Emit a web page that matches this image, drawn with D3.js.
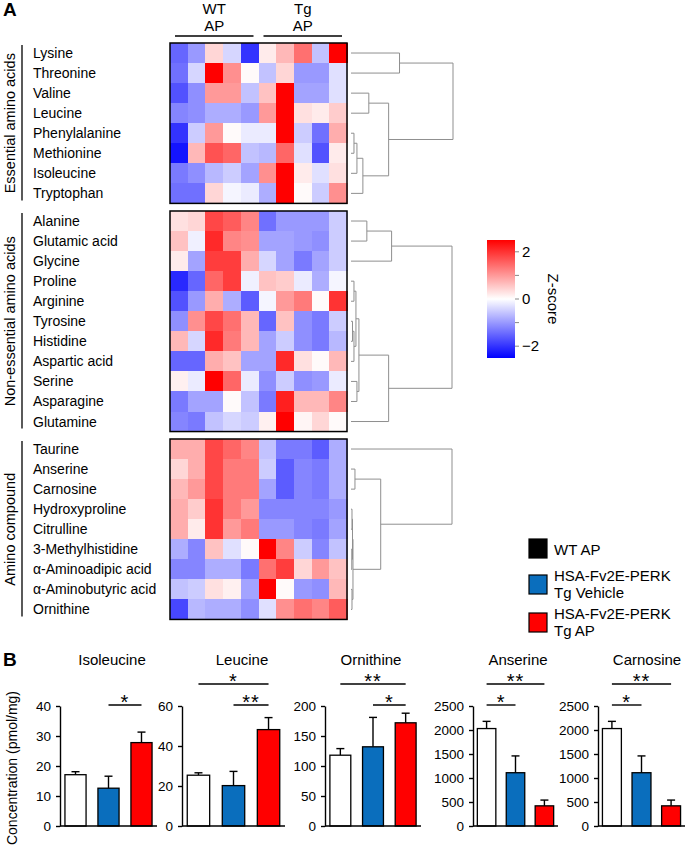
<!DOCTYPE html>
<html>
<head>
<meta charset="utf-8">
<script src="https://cdn.jsdelivr.net/npm/d3@7"></script>
<style>
  body { margin: 0; background: #fff; }
  svg { display: block; font-family: 'Liberation Sans', Arial, sans-serif; }
</style>
</head>
<body>
<div id="chart"></div>
<script>
// ---------- Data: heatmap (Z-scores, 5 WT AP + 5 Tg AP samples) ----------
const sampleHeaders = [['WT', 'AP'], ['Tg', 'AP']];
const groupNames = ['Essential amino acids', 'Non-essential amino acids', 'Amino compound'];

const essentialNames = ['Lysine', 'Threonine', 'Valine', 'Leucine', 'Phenylalanine',
  'Methionine', 'Isoleucine', 'Tryptophan'];
const nonEssentialNames = ['Alanine', 'Glutamic acid', 'Glycine', 'Proline', 'Arginine',
  'Tyrosine', 'Histidine', 'Aspartic acid', 'Serine', 'Asparagine', 'Glutamine'];
const compoundNames = ['Taurine', 'Anserine', 'Carnosine', 'Hydroxyproline', 'Citrulline',
  '3-Methylhistidine', 'α-Aminoadipic acid', 'α-Aminobutyric acid', 'Ornithine'];

const essentialZ = [
  [-1.5, -1.0, 0.4, -0.4, -2.0, 0.2, 0.7, 1.4, -0.6, 2.5],
  [-1.4, -0.4, 2.5, 1.1, 0.05, -0.6, 0.4, -1.0, -1.0, -0.3],
  [-1.7, -1.1, 1.0, 1.0, -0.6, 0.6, 2.5, -0.9, -0.9, -0.3],
  [-1.2, -1.1, -0.8, -0.8, -1.0, 1.0, 2.5, 0.3, 0.2, 0.5],
  [-2.0, -0.5, 1.0, 0.05, -0.2, -0.2, 2.5, -0.5, -1.4, 0.8],
  [-2.3, 0.7, 1.7, 1.5, -0.6, -0.7, 1.5, -0.3, -1.7, 0.2],
  [-1.3, -1.1, -0.7, -0.5, -0.9, 1.1, 2.5, 0.2, -0.3, 0.3],
  [-1.4, -1.4, 0.4, -0.1, -0.2, -0.8, 2.5, 0.05, -0.5, 1.1]
];
const nonEssentialZ = [
  [0.3, 0.4, 1.8, 1.6, 1.2, -1.4, -1.0, -1.0, -1.0, -0.5],
  [0.6, -0.15, 2.1, 1.2, 1.1, -0.9, -0.9, -1.0, -1.1, -0.5],
  [0.2, -0.9, 1.9, 1.9, 0.8, -0.4, -0.9, -1.3, -0.9, -0.5],
  [-2.1, -1.5, 1.5, 1.9, -0.15, 0.6, 0.5, -0.2, -0.8, -0.1],
  [-1.7, -1.0, 0.8, -0.8, -1.6, -0.1, 1.0, 1.3, 0.05, 2.0],
  [-1.1, 1.1, 1.8, 1.4, 0.7, -1.5, 0.6, -1.1, -1.3, -0.5],
  [0.7, -0.4, 2.1, 1.3, 0.7, -0.9, -0.5, -1.1, -1.3, -0.7],
  [-1.5, -1.5, 0.8, 0.6, -0.9, -0.9, 2.1, 0.3, 0.05, 0.7],
  [0.15, -0.2, 2.5, 1.5, -0.2, -1.1, -0.5, -1.1, -1.0, -0.2],
  [-1.3, -0.9, -0.9, 0.05, -0.6, -1.3, 2.2, 0.7, 0.7, 1.2],
  [-1.2, -1.3, -0.6, -0.4, -0.5, 0.15, 2.5, 0.1, 0.4, 0.05]
];
const compoundZ = [
  [0.8, 0.8, 1.8, 1.5, 1.2, -0.6, -1.3, -1.3, -1.6, -0.8],
  [0.4, 0.8, 1.8, 1.3, 1.3, -0.5, -1.6, -1.2, -1.3, -0.8],
  [0.7, 1.0, 1.8, 1.3, 1.3, -0.9, -1.6, -1.2, -1.3, -0.8],
  [0.8, 0.5, 2.0, 1.3, 1.0, -1.2, -1.2, -1.2, -1.2, -1.0],
  [0.8, 0.2, 2.0, 1.0, 1.3, -1.0, -1.0, -1.2, -1.3, -0.9],
  [-0.8, -1.2, 0.6, -0.3, 0.05, 2.5, 1.2, -0.5, -1.2, -0.6],
  [-1.2, -1.2, -0.8, -0.8, -1.3, 1.4, 1.9, 0.4, 1.0, 0.6],
  [-0.6, -0.5, 0.3, 0.15, -0.9, 2.5, 0.05, -1.0, -1.1, 0.7],
  [-1.8, -0.7, -0.8, -0.8, -1.1, -0.3, 1.1, 1.4, 1.2, 1.6]
];

// row dendrograms: [height, left, right], leaves = row index
const essentialTree = [103, [49, 0, 1], [38, [18, 2, 3], [12, [6, [3, 4, 5], 6], 7]]];
const nonEssentialTree = [102, [41, [16, 0, 1], 2],
  [38, [8, [5, [3, 3, 4], [3, [1.5, 5, 6], 7]], [6, 8, 9]], 10]];
const compoundTree = [102, 0, [30, [4, 1, 2], [2, [1.5, [1, 3, 4], [0.8, 5, 6]], [1, 7, 8]]]];

const zTicks = [-2, -1, 0, 1, 2];

// ---------- Data: bar charts (pmol/mg) ----------
const barTitles = ['Isoleucine', 'Leucine', 'Ornithine', 'Anserine', 'Carnosine'];
const barGroups = ['WT AP', 'HSA-Fv2E-PERK Tg Vehicle', 'HSA-Fv2E-PERK Tg AP'];
const barMeans = [
  [17.1, 12.6, 27.8],
  [25.4, 20.2, 48.2],
  [118, 132, 172],
  [2030, 1110, 420],
  [2030, 1110, 420]
];
const barErrors = [
  [1.0, 4.0, 3.5],
  [1.2, 7.1, 6.0],
  [11, 49, 16],
  [150, 350, 120],
  [150, 350, 120]
];
const barYMax = [40, 60, 200, 2500, 2500];
const barYStep = [10, 20, 50, 500, 500];
// [from group, to group, label]; first = lower line
const barSignif = [
  [[1, 2, '*']],
  [[1, 2, '**'], [0, 2, '*']],
  [[1, 2, '*'], [0, 2, '**']],
  [[0, 1, '*'], [0, 2, '**']],
  [[0, 1, '*'], [0, 2, '**']]
];

// ---------- Drawing ----------
const W = 688, H = 852;
const svg = d3.select('#chart').append('svg').attr('width', W).attr('height', H);

const zColor = d3.scaleLinear().domain([-2.5, 0, 2.5])
  .range(['#0000ff', '#ffffff', '#ff0000']).clamp(true);

svg.append('text').attr('x', 3).attr('y', 16).text('A')
  .style('font-size', '19px').style('font-weight', 'bold');
svg.append('text').attr('x', 3).attr('y', 666).text('B')
  .style('font-size', '19px').style('font-weight', 'bold');

const cols = d3.scaleBand().domain(d3.range(10)).range([170, 347]);

// column headers
sampleHeaders.forEach((lines, gi) => {
  const x0 = cols(gi * 5), x1 = cols(gi * 5 + 4) + cols.bandwidth();
  lines.forEach((t, li) => {
    svg.append('text').attr('x', (x0 + x1) / 2).attr('y', 14 + li * 17)
      .attr('text-anchor', 'middle').text(t).style('font-size', '15px');
  });
  svg.append('line').attr('x1', x0 + 5).attr('x2', x1 - 5)
    .attr('y1', 36).attr('y2', 36).attr('stroke', '#000').attr('stroke-width', 1.6);
});

const blocks = [
  { names: essentialNames, z: essentialZ, tree: essentialTree, top: 43 },
  { names: nonEssentialNames, z: nonEssentialZ, tree: nonEssentialTree, top: 211 },
  { names: compoundNames, z: compoundZ, tree: compoundTree, top: 439 }
];
const rowH = 20.05;
const xd = d3.scaleLinear().domain([0, 103]).range([351, 453]);

blocks.forEach((b, bi) => {
  const rows = d3.scaleBand().domain(d3.range(b.names.length))
    .range([b.top, b.top + b.names.length * rowH]);
  const g = svg.append('g');

  // cells
  b.z.forEach((row, ri) => {
    g.selectAll(null).data(row).enter().append('rect')
      .attr('x', (d, ci) => cols(ci))
      .attr('y', rows(ri))
      .attr('width', cols.bandwidth() + 0.5)
      .attr('height', rows.bandwidth() + 0.5)
      .attr('fill', d => zColor(d))
      .attr('shape-rendering', 'crispEdges');
  });
  g.append('rect').attr('x', cols.range()[0]).attr('y', rows.range()[0])
    .attr('width', cols.range()[1] - cols.range()[0])
    .attr('height', rows.range()[1] - rows.range()[0])
    .attr('fill', 'none').attr('stroke', '#000').attr('stroke-width', 1.5);

  // row labels
  g.selectAll('text.row').data(b.names).enter().append('text')
    .attr('x', 33).attr('y', (d, i) => rows(i) + rows.bandwidth() / 2 + 5)
    .text(d => d).style('font-size', '14px');

  // group bracket + label
  const y0 = rows.range()[0], y1 = rows.range()[1];
  g.append('line').attr('x1', 22).attr('x2', 22).attr('y1', y0 + 2).attr('y2', y1 - 3)
    .attr('stroke', '#000').attr('stroke-width', 1.3);
  g.append('text')
    .attr('transform', `translate(15,${(y0 + y1) / 2}) rotate(-90)`)
    .attr('text-anchor', 'middle').text(groupNames[bi]).style('font-size', '14.5px');

  // dendrogram
  const dg = g.append('g').attr('stroke', '#8f8f8f').attr('stroke-width', 1).attr('fill', 'none');
  function walk(node) {
    if (typeof node === 'number') {
      return { x: xd(0), y: rows(node) + rows.bandwidth() / 2 };
    }
    const [h, l, r] = node;
    const a = walk(l), c = walk(r), x = xd(h);
    dg.append('path').attr('d', `M${a.x},${a.y}H${x}V${c.y}H${c.x}`);
    return { x: x, y: (a.y + c.y) / 2 };
  }
  walk(b.tree);
});

// colour bar
const zy = d3.scaleLinear().domain([-2.5, 2.5]).range([358, 240]);
const grad = svg.append('defs').append('linearGradient').attr('id', 'zgrad')
  .attr('x1', 0).attr('y1', 1).attr('x2', 0).attr('y2', 0);
grad.selectAll('stop').data(d3.range(-2.5, 2.51, 0.5)).enter().append('stop')
  .attr('offset', d => (d + 2.5) / 5).attr('stop-color', d => zColor(d));
svg.append('rect').attr('x', 487).attr('y', zy(2.5)).attr('width', 28)
  .attr('height', zy(-2.5) - zy(2.5)).attr('fill', 'url(#zgrad)');
svg.selectAll('line.zt').data(zTicks).enter().append('line')
  .attr('x1', 515).attr('x2', 519).attr('y1', d => zy(d)).attr('y2', d => zy(d))
  .attr('stroke', '#888').attr('stroke-width', 1);
svg.selectAll('text.zt').data(zTicks.filter(d => d % 2 === 0)).enter().append('text')
  .attr('x', 522).attr('y', d => zy(d) + 5)
  .text(d => d < 0 ? '\u2212' + Math.abs(d) : d).style('font-size', '15px');
svg.append('text').attr('transform', `translate(548,${zy(0)}) rotate(90)`)
  .attr('text-anchor', 'middle').text('Z-score').style('font-size', '15px');

// legend
const barColors = ['#ffffff', '#0a6ebd', '#ff0000'];
const legendColors = ['#000000', '#0a6ebd', '#ff0000'];
const legendLines = [['WT AP'], ['HSA-Fv2E-PERK', 'Tg Vehicle'], ['HSA-Fv2E-PERK', 'Tg AP']];
const legendTop = [539, 575, 613];
legendLines.forEach((lines, i) => {
  svg.append('rect').attr('x', 529).attr('y', legendTop[i]).attr('width', 18).attr('height', 19)
    .attr('fill', legendColors[i]).attr('stroke', '#000').attr('stroke-width', 1.2);
  lines.forEach((t, li) => {
    svg.append('text').attr('x', 554)
      .attr('y', lines.length === 1 ? legendTop[i] + 16 : legendTop[i] + 6 + li * 17)
      .text(t).style('font-size', '15px');
  });
});

// bar panels
const panelLayout = [
  { x0: 60, x1: 157, tx: 112 },
  { x0: 182, x1: 285, tx: 242 },
  { x0: 325, x1: 421, tx: 371 },
  { x0: 473, x1: 558, tx: 518 },
  { x0: 598, x1: 685, tx: 647 }
];
const yBottom = 826, yTop = 706;

barTitles.forEach((title, pi) => {
  const L = panelLayout[pi];
  const g = svg.append('g');
  const x = d3.scaleBand().domain(d3.range(3)).range([L.x0, L.x1])
    .paddingInner(0.36).paddingOuter(0.15);
  const y = d3.scaleLinear().domain([0, barYMax[pi]]).range([yBottom, yTop]);

  g.append('text').attr('x', L.tx).attr('y', 665).attr('text-anchor', 'middle')
    .text(title).style('font-size', '15px');

  const ax = g.append('g').attr('transform', `translate(${L.x0},0)`)
    .call(d3.axisLeft(y).tickValues(d3.range(0, barYMax[pi] + 1, barYStep[pi]))
      .tickFormat(d3.format('d')).tickSize(4).tickSizeOuter(0).tickPadding(5));
  ax.selectAll('text').style('font-size', '13.5px')
    .style('font-family', "'Liberation Sans', Arial, sans-serif").attr('fill', '#000');
  ax.selectAll('line, path').attr('stroke', '#000').attr('stroke-width', 1.4);

  // error bars (upper only)
  const cx = i => x(i) + x.bandwidth() / 2;
  g.selectAll('line.err').data(barMeans[pi]).enter().append('line')
    .attr('x1', (d, i) => cx(i)).attr('x2', (d, i) => cx(i))
    .attr('y1', d => y(d)).attr('y2', (d, i) => y(d + barErrors[pi][i]))
    .attr('stroke', '#000').attr('stroke-width', 1.4);
  g.selectAll('line.cap').data(barMeans[pi]).enter().append('line')
    .attr('x1', (d, i) => cx(i) - 4).attr('x2', (d, i) => cx(i) + 4)
    .attr('y1', (d, i) => y(d + barErrors[pi][i])).attr('y2', (d, i) => y(d + barErrors[pi][i]))
    .attr('stroke', '#000').attr('stroke-width', 1.4);

  g.selectAll('rect.bar').data(barMeans[pi]).enter().append('rect')
    .attr('x', (d, i) => x(i)).attr('y', d => y(d))
    .attr('width', x.bandwidth()).attr('height', d => yBottom - y(d))
    .attr('fill', (d, i) => barColors[i]).attr('stroke', '#000').attr('stroke-width', 1.3);

  g.append('line').attr('x1', L.x0).attr('x2', L.x1).attr('y1', yBottom).attr('y2', yBottom)
    .attr('stroke', '#000').attr('stroke-width', 1.4);

  // significance
  barSignif[pi].forEach(([a, b, lab], li) => {
    const ly = 705 - li * 21;
    g.append('line').attr('x1', cx(a)).attr('x2', cx(b)).attr('y1', ly).attr('y2', ly)
      .attr('stroke', '#000').attr('stroke-width', 1.4);
    g.append('text').attr('x', (cx(a) + cx(b)) / 2).attr('y', ly + 3.5)
      .attr('text-anchor', 'middle').text(lab)
      .style('font-size', '20px').style('letter-spacing', '1px');
  });
});

svg.append('text').attr('transform', 'translate(17,768) rotate(-90)')
  .attr('text-anchor', 'middle').text('Concentration (pmol/mg)').style('font-size', '14px');
</script>
</body>
</html>
